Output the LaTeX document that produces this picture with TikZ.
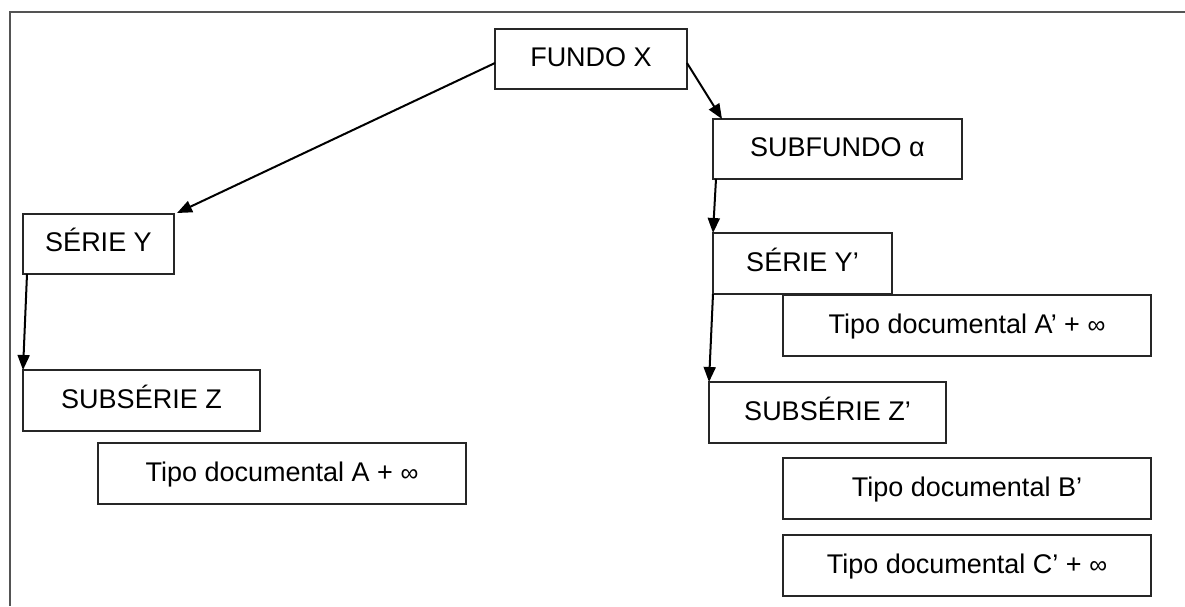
\documentclass[tikz,border=0pt]{standalone}
\usepackage{fontspec}
\setmainfont{Liberation Sans}
\usetikzlibrary{arrows.meta}
\newcommand{\infsym}{{\fontsize{25}{25}\selectfont ∞}}
\tikzset{
  box/.style={draw=black!85, line width=1.6pt, fill=white, inner sep=0pt, outer sep=0pt,
    font=\fontsize{27}{32}\selectfont, text height=19pt, text depth=4pt},
  link/.style={line width=2pt, -{Triangle[length=15pt,width=12pt]}},
  frameline/.style={draw=black!67, line width=2.4pt}
}
\begin{document}
\begin{tikzpicture}[x=1pt, y=-1pt]
\useasboundingbox (0,0) rectangle (1185,606);
% page edge lines
\draw[frameline] (10,12) -- (1185,12);
\draw[frameline] (10,11) -- (10,606);

% fonds and sub-fonds
\node[box, minimum width=192pt, minimum height=60pt] (fx)  at (591,59)    {FUNDO X};
\node[box, minimum width=249pt, minimum height=60pt] (sf)  at (837.5,149) {SUBFUNDO α};

% left branch
\node[box, minimum width=151pt, minimum height=60pt] (sy)  at (98.5,244)  {SÉRIE Y};
\node[box, minimum width=237pt, minimum height=61pt] (sz)  at (141.5,400.5) {SUBSÉRIE Z};
\node[box, minimum width=368pt, minimum height=61pt] (ta)  at (282,473.5)  {Tipo documental A + \infsym};

% right branch
\node[box, minimum width=179pt, minimum height=61pt] (syp) at (802.5,263.5) {SÉRIE Y’};
\node[box, minimum width=368pt, minimum height=61pt] (tap) at (967,325.5)   {Tipo documental A’ + \infsym};
\node[box, minimum width=237pt, minimum height=61pt] (szp) at (827.5,412.5) {SUBSÉRIE Z’};
\node[box, minimum width=368pt, minimum height=61pt] (tbp) at (967,488.5)   {Tipo documental B’};
\node[box, minimum width=368pt, minimum height=61pt] (tcp) at (967,565.5)   {Tipo documental C’ + \infsym};

% connectors
\draw[link] ([yshift=-4pt]fx.west) -- ([xshift=3pt,yshift=1pt]sy.north east);
\draw[link] ([yshift=-4pt]fx.east) -- ([xshift=9pt]sf.north west);
\draw[link] ([xshift=3pt]sf.south west) -- (syp.north west);
\draw[link] (syp.south west) -- (szp.north west);
\draw[link] ([xshift=4pt]sy.south west) -- (sz.north west);
\end{tikzpicture}
\end{document}
